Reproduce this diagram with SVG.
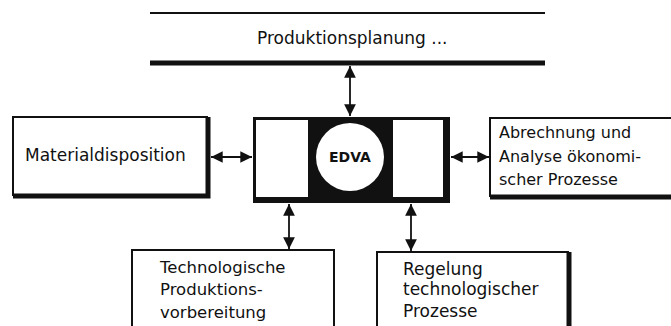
<svg xmlns="http://www.w3.org/2000/svg" width="671" height="326" viewBox="0 0 671 326">
<defs>
<style>
.t{font-family:"DejaVu Sans","Liberation Sans",sans-serif;font-size:16px;fill:#111}
.box{fill:#fff;stroke:#111;stroke-width:2}
.sh{fill:none;stroke:#111;stroke-width:5}
.c{stroke:#111;stroke-width:1.8;fill:none;marker-start:url(#ah);marker-end:url(#ah)}
</style>
<marker id="ah" viewBox="0 0 10 10" refX="10" refY="5" markerWidth="6.5" markerHeight="6.5" markerUnits="strokeWidth" orient="auto-start-reverse">
<path d="M0,0 L10,5 L0,10 z" fill="#111"/>
</marker>
</defs>
<rect width="671" height="326" fill="#fff"/>
<g id="connectors">
<line class="c" x1="350" y1="66" x2="350" y2="116"/>
<line class="c" x1="211" y1="157" x2="252" y2="157"/>
<line class="c" x1="451" y1="157" x2="489" y2="157"/>
<line class="c" x1="289" y1="204" x2="289" y2="249"/>
<line class="c" x1="411" y1="204" x2="411" y2="251"/>
</g>
<g id="produktionsplanung">
<line x1="150" y1="13" x2="545" y2="13" stroke="#111" stroke-width="2"/>
<line x1="150" y1="63" x2="545" y2="63" stroke="#111" stroke-width="5"/>
<text class="t" x="257" y="44" style="font-size:17px">Produktionsplanung ...</text>
</g>
<g id="materialdisposition">
<rect class="box" x="13" y="117" width="194" height="78"/>
<path class="sh" d="M208,117 V196 H13"/>
<text class="t" x="25" y="161" style="font-size:17px">Materialdisposition</text>
</g>
<g id="edva">
<rect x="253" y="117" width="197" height="86" fill="#111"/>
<rect x="256" y="120" width="52" height="77" fill="#fff"/>
<rect x="393" y="120" width="50" height="77" fill="#fff"/>
<circle cx="350" cy="157" r="34" fill="#fff"/>
<text class="t" x="350" y="162" text-anchor="middle" style="font-size:14px;font-weight:bold">EDVA</text>
</g>
<g id="abrechnung">
<rect class="box" x="490" y="118" width="185" height="78"/>
<path class="sh" d="M490,197 H675"/>
<text class="t" x="499" y="138">Abrechnung und</text>
<text class="t" x="499" y="162">Analyse ökonomi-</text>
<text class="t" x="499" y="185">scher Prozesse</text>
</g>
<g id="technologische">
<rect class="box" x="132" y="250" width="202" height="90"/>
<text class="t" x="160" y="273" style="font-size:16.5px">Technologische</text>
<text class="t" x="160" y="295" style="font-size:16.5px">Produktions-</text>
<text class="t" x="160" y="318" style="font-size:16.5px">vorbereitung</text>
</g>
<g id="regelung">
<rect class="box" x="377" y="252" width="191" height="90"/>
<path class="sh" d="M569,252 V330"/>
<text class="t" x="403" y="275" style="font-size:17px">Regelung</text>
<text class="t" x="403" y="295" style="font-size:17px">technologischer</text>
<text class="t" x="403" y="317" style="font-size:17px">Prozesse</text>
</g>
</svg>
